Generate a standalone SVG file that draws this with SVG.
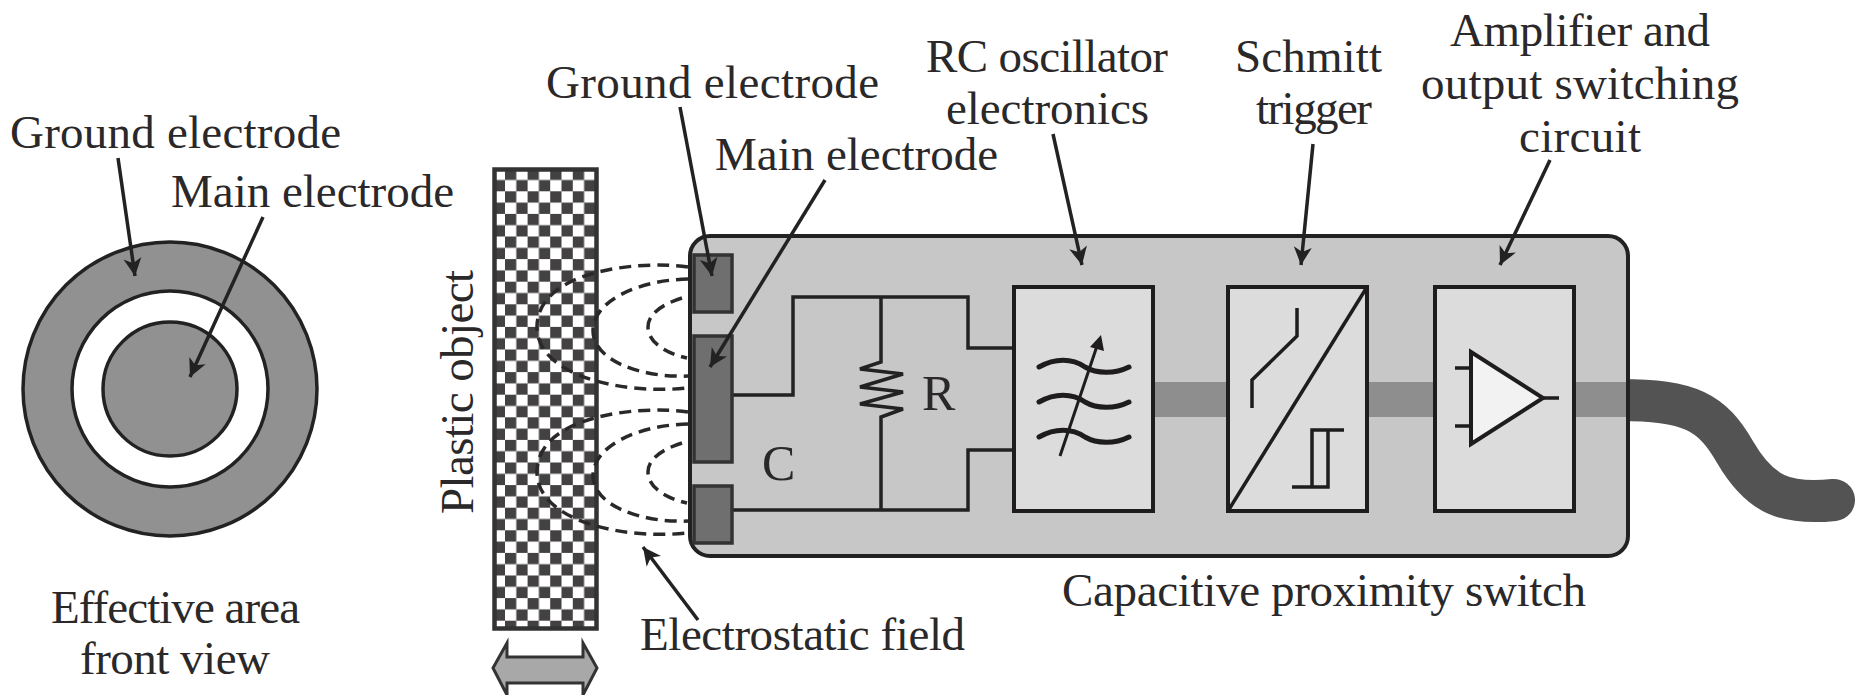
<svg xmlns="http://www.w3.org/2000/svg" width="1855" height="695" viewBox="0 0 1855 695">
<style>
text{font-family:"Liberation Serif","Times New Roman",serif;font-size:47px;fill:#2a2829}
.big{font-size:50px}
.ln{fill:none;stroke:#222;stroke-width:3.5;stroke-linejoin:miter}
.sy{fill:none;stroke:#1e1c1d;stroke-width:3.5}
.wv{fill:none;stroke:#1e1c1d;stroke-width:5;stroke-linecap:round}
.ar{fill:none;stroke:#222;stroke-width:3.5;marker-end:url(#h)}
.fd{fill:none;stroke:#2a2829;stroke-width:3.5;stroke-dasharray:12 7}
.el{fill:#706f70;stroke:#333;stroke-width:3.5}
.bl{fill:#dcdcdc;stroke:#1e1c1d;stroke-width:4}
.band{fill:#8f8e8f}
</style>
<defs>
<marker id="h" viewBox="-20 -10 21 20" refX="0" refY="0" markerWidth="21" markerHeight="20" markerUnits="userSpaceOnUse" orient="auto"><path d="M-18 -9 L0 0 L-18 9 L-13 0 Z" fill="#222"/></marker>
<pattern id="chk" patternUnits="userSpaceOnUse" x="505" y="168.7" width="22.6" height="22.6"><rect width="22.6" height="22.6" fill="#fff"/><rect x="0" y="0" width="11.3" height="11.3" fill="#434142"/><rect x="11.3" y="11.3" width="11.3" height="11.3" fill="#434142"/></pattern>
</defs>

<g id="front-view">
<circle cx="170" cy="389" r="147" fill="#929192" stroke="#222" stroke-width="3.5"/>
<circle cx="170" cy="389" r="98" fill="#fff" stroke="#222" stroke-width="3.5"/>
<circle cx="170" cy="389" r="67" fill="#929192" stroke="#222" stroke-width="3.5"/>
</g>
<g id="plastic-object">
<rect x="494.5" y="169.5" width="102" height="459" fill="url(#chk)" stroke="#333" stroke-width="4.5"/>
</g>
<g id="motion-arrow">
<path d="M493 668 L507 643 V657 H583 V643 L597 668 L583 695 V683 H507 V695 Z" fill="#a9a8a9" stroke="#333" stroke-width="3"/>
</g>
<g id="cable">
<path d="M1620 400 C1690 400 1712 412 1735 452 C1760 495 1785 505 1834 500" fill="none" stroke="#545354" stroke-width="42" stroke-linecap="round"/>
</g>
<g id="switch-housing">
<rect x="690" y="236" width="938" height="320" rx="20" fill="#c8c7c8" stroke="#222" stroke-width="4"/>
</g>
<g id="signal-band">
<rect class="band" x="1154" y="382" width="74" height="35"/>
<rect class="band" x="1367" y="382" width="67" height="35"/>
<rect class="band" x="1575" y="382" width="51" height="35"/>
</g>

<g id="connectors">
<path class="ln" d="M732 395 H793 V297 H968 V348 H1013"/>
<path class="ln" d="M732 510 H968 V450 H1013"/>
<path class="ln" d="M881 297 V362 L860 369 L903 374 L860 387 L903 392 L860 404 L903 409 L881 417 V510"/>
<path class="fd" d="M688 267 C640 260 537 270 537 327 C537 375 620 395 688 388"/>
<path class="fd" d="M688 279 C640 280 593 300 593 331 C593 360 640 378 688 376"/>
<path class="fd" d="M682 298 C660 305 648 315 648 327 C648 342 665 353 687 358"/>
<path class="fd" d="M688 412 C640 405 537 415 537 472 C537 520 620 540 688 533"/>
<path class="fd" d="M688 424 C640 425 593 445 593 476 C593 505 640 523 688 521"/>
<path class="fd" d="M682 443 C660 450 648 460 648 472 C648 487 665 498 687 503"/>
</g>

<g id="electrode-ground-top"><rect class="el" x="694" y="255" width="38" height="57"/></g>
<g id="electrode-main"><rect class="el" x="694" y="336" width="38" height="126"/></g>
<g id="electrode-ground-bottom"><rect class="el" x="694" y="486" width="38" height="57"/></g>

<g id="rc-oscillator">
<rect class="bl" x="1014" y="287" width="139" height="224"/>
<path class="wv" d="M1039 367 C1055 358 1072 358 1085 367 C1097 374 1115 374 1129 367"/>
<path class="wv" d="M1039 402 C1055 393 1072 393 1085 402 C1097 409 1115 409 1129 402"/>
<path class="wv" d="M1039 437 C1055 428 1072 428 1085 437 C1097 444 1115 444 1129 437"/>
<path d="M1060 456 L1097 346" fill="none" stroke="#1e1c1d" stroke-width="3"/>
<path d="M1101 335 L1104 351 L1090 347 Z" fill="#1e1c1d"/>
</g>
<g id="schmitt-trigger">
<rect class="bl" x="1228" y="287" width="139" height="224"/>
<path class="sy" d="M1228 511 L1367 287"/>
<path class="sy" d="M1297 308 V336 L1252 380 V408"/>
<path class="sy" d="M1292 487 H1328 V430 M1312 487 V430 H1344"/>
</g>
<g id="amplifier">
<rect class="bl" x="1435" y="287" width="139" height="224"/>
<path d="M1471 352 L1543 398 L1471 444 Z" fill="#f2f2f2" stroke="#1e1c1d" stroke-width="4"/>
<path class="sy" d="M1455 368 H1471 M1455 426 H1471 M1543 398 H1559"/>
</g>

<g id="leaders">
<path class="ar" d="M118 158 L135 276"/>
<path class="ar" d="M263 217 L190 377"/>
<path class="ar" d="M680 107 L712 276"/>
<path class="ar" d="M825 180 L710 367"/>
<path class="ar" d="M1053 134 L1082 265"/>
<path class="ar" d="M1313 144 L1301 265"/>
<path class="ar" d="M1550 160 L1500 265"/>
<path class="ar" d="M698 620 L643 547"/>
</g>

<g id="labels">
<text x="10" y="148" textLength="331">Ground electrode</text>
<text x="171" y="207" textLength="283">Main electrode</text>
<text x="51" y="623" textLength="249">Effective area</text>
<text x="80" y="674" textLength="190">front view</text>
<text transform="translate(473 514) rotate(-90)" textLength="244">Plastic object</text>
<text x="546" y="98" textLength="333">Ground electrode</text>
<text x="715" y="170" textLength="283">Main electrode</text>
<text x="926" y="72" textLength="242">RC oscillator</text>
<text x="946" y="124" textLength="203">electronics</text>
<text x="1235" y="72" textLength="147">Schmitt</text>
<text x="1256" y="124" textLength="116">trigger</text>
<text x="1450" y="46" textLength="260">Amplifier and</text>
<text x="1421" y="99" textLength="318">output switching</text>
<text x="1519" y="152" textLength="122">circuit</text>
<text x="1062" y="606" textLength="524">Capacitive proximity switch</text>
<text x="640" y="650" textLength="325">Electrostatic field</text>
<text class="big" x="762" y="480" textLength="33">C</text>
<text class="big" x="922" y="410" textLength="30">R</text>
</g>
</svg>
